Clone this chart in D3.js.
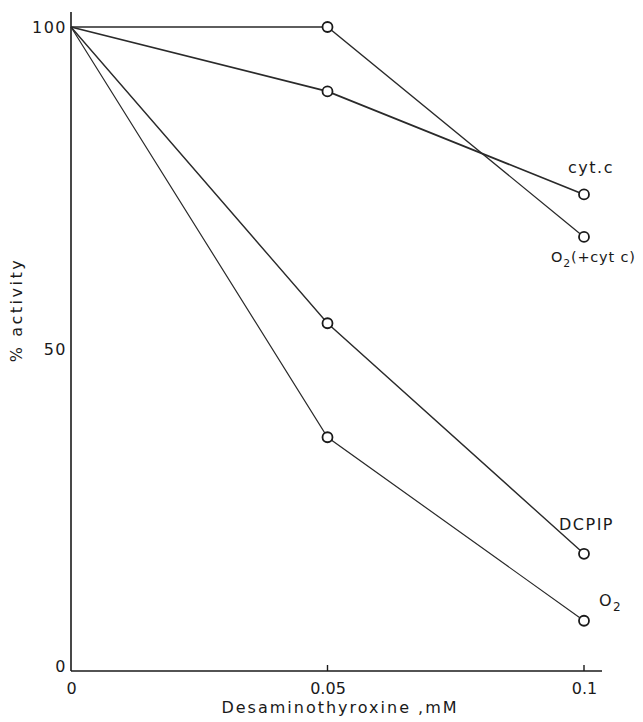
<!DOCTYPE html>
<html>
<head>
<meta charset="utf-8">
<script src="https://cdn.jsdelivr.net/npm/d3@7"></script>
<style>
  html, body { margin: 0; padding: 0; background: #fff; }
  svg text { font-family: "DejaVu Sans", sans-serif; fill: #1a1a1a; }
</style>
</head>
<body>
<svg id="chart" width="643" height="722"></svg>
<script>
// Desaminothyroxine concentration (mM)
const concentrations = [0, 0.05, 0.1];

// % activity for each assay
const seriesNames = ["O2 (+cyt c)", "cyt.c", "DCPIP", "O2"];
const o2CytC = [100, 100, 67.4];
const cytC = [100, 90, 74];
const dcpip = [100, 54, 18.2];
const o2 = [100, 36.3, 7.8];

const xTicks = [0, 0.05, 0.1];
const xTickLabels = ["0", "0.05", "0.1"];
const yTicks = [0, 50, 100];
const yTickLabels = ["0", "50", "100"];

const seriesValues = [o2CytC, cytC, dcpip, o2];

const svg = d3.select("#chart");
const x = d3.scaleLinear().domain([0, 0.1]).range([71, 584]);
const y = d3.scaleLinear().domain([0, 100]).range([671, 27]);

const ink = "#1a1a1a";

// axes frame
svg.append("line").attr("x1", x(0)).attr("x2", x(0)).attr("y1", 12).attr("y2", y(0))
  .attr("stroke", ink).attr("stroke-width", 1.6);
svg.append("line").attr("x1", x(0)).attr("x2", 602).attr("y1", y(0)).attr("y2", y(0))
  .attr("stroke", ink).attr("stroke-width", 1.6);

// x ticks (pointing inward) and labels
const xAxis = d3.axisBottom(x).tickValues(xTicks).tickSize(0).tickFormat((d, i) => xTickLabels[i]);
const gx = svg.append("g").attr("transform", `translate(0,${y(0)})`).call(xAxis);
gx.select(".domain").remove();
gx.selectAll("text").attr("font-size", 16).attr("dy", "1.25em").style("fill", ink)
  .attr("font-family", "DejaVu Sans, sans-serif");
svg.selectAll(".xtick").data(xTicks.filter(d => d > 0)).enter().append("line")
  .attr("x1", d => x(d)).attr("x2", d => x(d)).attr("y1", y(0)).attr("y2", y(0) - 6)
  .attr("stroke", ink).attr("stroke-width", 1.4);

// y tick labels
const yAxis = d3.axisLeft(y).tickValues(yTicks).tickSize(0).tickPadding(4).tickFormat((d, i) => yTickLabels[i]);
const gy = svg.append("g").attr("transform", `translate(${x(0)},0)`).call(yAxis);
gy.select(".domain").remove();
gy.selectAll("text").attr("font-size", 16).attr("letter-spacing", 1.5).style("fill", ink)
  .attr("font-family", "DejaVu Sans, sans-serif");
gy.selectAll(".tick").filter(d => d === 0).select("text").attr("dy", "0.05em");

// axis titles
svg.append("text").attr("x", 340).attr("y", 713).attr("text-anchor", "middle")
  .attr("font-size", 16).attr("letter-spacing", 2).text("Desaminothyroxine ,mM");
svg.append("text").attr("transform", `translate(22,310) rotate(-90)`).attr("text-anchor", "middle")
  .attr("font-size", 16).attr("letter-spacing", 2.5).text("% activity");

// series lines
const line = d3.line().x((d, i) => x(concentrations[i])).y(d => y(d));
const widths = [1.3, 1.7, 1.4, 1.2];
seriesValues.forEach((vals, k) => {
  svg.append("path").attr("d", line(vals)).attr("fill", "none")
    .attr("stroke", "#2a2a2a").attr("stroke-width", widths[k]);
});

// open circle markers (skip the shared origin point)
seriesValues.forEach(vals => {
  svg.selectAll(null).data(vals.slice(1)).enter().append("circle")
    .attr("cx", (d, i) => x(concentrations[i + 1])).attr("cy", d => y(d)).attr("r", 5)
    .attr("fill", "#fff").attr("stroke", ink).attr("stroke-width", 1.8);
});

// series labels
const lab = (tx, ty, parts, size, spacing) => {
  const t = svg.append("text").attr("x", tx).attr("y", ty).attr("font-size", size).attr("letter-spacing", spacing);
  parts.forEach(p => {
    const ts = t.append("tspan").text(p.t);
    if (p.sub) ts.attr("font-size", size * 0.75).attr("dy", 5);
    if (p.up) ts.attr("dy", -5);
  });
  return t;
};
lab(568, 173, [{ t: "cyt.c" }], 16, 1.5);
lab(551, 262, [{ t: "O" }, { t: "2", sub: true }, { t: "(+cyt c)", up: true }], 14.5, 0.8);
lab(559, 530, [{ t: "DCPIP" }], 16, 1.5);
lab(599, 606, [{ t: "O", }, { t: "2", sub: true }], 16, 1.5);
</script>
</body>
</html>
